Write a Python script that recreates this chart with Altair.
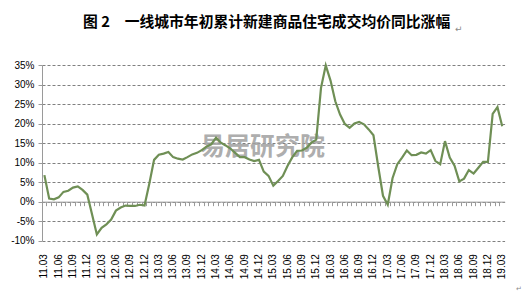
import altair as alt
import pandas as pd

# categories: monthly, 2011.03 .. 2019.03
months = [f"{y}.{m:02d}" for y in range(11, 20) for m in range(1, 13)
          if (11, 3) <= (y, m) <= (19, 3)]

# year-to-date YoY change of new commercial housing average price (%)
values = [
    6.8, 0.8, 0.6, 1.1, 2.5, 2.8, 3.6, 3.9, 3.0, 1.8,
    -3.3, -8.4, -6.7, -5.8, -4.6, -2.3, -1.5, -1.0, -1.1, -1.1,
    -0.8, -1.0, 4.6, 10.7, 12.0, 12.3, 12.7, 11.4, 11.0, 10.8,
    11.4, 12.1, 12.5, 13.2, 14.1, 14.7, 16.4, 15.1, 14.4, 13.6,
    12.5, 11.4, 11.4, 10.8, 10.4, 10.7, 7.7, 6.6, 4.1, 5.3,
    6.6, 9.2, 11.4, 13.0, 13.1, 13.8, 15.1, 15.9, 29.1, 34.9,
    31.0, 25.7, 22.3, 19.9, 18.9, 20.0, 20.4, 19.8, 18.5, 17.0,
    9.0, 1.5, -0.8, 6.0, 9.6, 11.3, 13.1, 11.9, 12.0, 12.6,
    12.3, 13.2, 10.4, 9.6, 15.5, 11.3, 9.2, 5.2, 5.9, 8.1,
    7.2, 8.7, 10.2, 10.2, 22.5, 24.2, 19.3,
]

y_ticks = [-10, -5, 0, 5, 10, 15, 20, 25, 30, 35]
label_months = ["03", "06", "09", "12"]
title_text = "图 2　一线城市年初累计新建商品住宅成交均价同比涨幅"
watermark = "易居研究院"

W, H = 462.6, 175.7
Y_MIN, Y_MAX = -10, 35
zero_offset = -H * (0 - Y_MIN) / (Y_MAX - Y_MIN)

df = pd.DataFrame({"month": months, "value": values})

label_expr = ("indexof(" + str(label_months) + ", slice(datum.value, 3)) >= 0"
              " ? datum.value : ''")

line = alt.Chart(df).mark_line(color="#6F8F55", strokeWidth=2.2).encode(
    x=alt.X(
        "month:O", sort=months,
        scale=alt.Scale(type="band", paddingInner=0, paddingOuter=0),
        bandPosition=0.5,
        axis=alt.Axis(
            title=None, orient="bottom", offset=zero_offset, bandPosition=0,
            tickSize=4, tickColor="#9a9a9a", domainColor="#9a9a9a",
            labelAngle=270, labelAlign="right", labelBaseline="middle",
            labelPadding=48, labelOverlap=False, labelExpr=label_expr,
            labelFont="Liberation Sans", labelFontSize=10, labelColor="#000",
            grid=False,
        ),
    ),
    y=alt.Y(
        "value:Q",
        scale=alt.Scale(domain=[Y_MIN, Y_MAX], nice=False, zero=False),
        axis=alt.Axis(
            title=None, values=y_ticks, labelExpr="datum.value + '%'",
            grid=True, gridDash=[3, 2], gridColor="#808080",
            tickSize=4, tickColor="#9a9a9a", domainColor="#9a9a9a",
            labelPadding=4, labelFont="Liberation Sans", labelFontSize=10,
            labelColor="#000",
        ),
    ),
)

wm = alt.Chart(pd.DataFrame({"t": [watermark]})).mark_text(
    font="Noto Sans CJK SC", fontSize=25, fontWeight="bold", color="#a0a0a0",
    opacity=0.85, align="left", baseline="middle",
).encode(x=alt.value(158), y=alt.value(82), text="t:N")

title = alt.Chart(pd.DataFrame({"t": [title_text]})).mark_text(
    font="Noto Sans CJK SC", fontSize=14.8, fontWeight="bold", color="#000",
    align="left", baseline="middle",
).encode(x=alt.value(41), y=alt.value(-42), text="t:N")

marks = alt.Chart(pd.DataFrame({"t": ["↵"]})).mark_text(
    font="DejaVu Sans", fontSize=9, color="#8a8a8a", align="left",
    baseline="middle",
).encode(x=alt.value(413), y=alt.value(-36), text="t:N")

marks2 = alt.Chart(pd.DataFrame({"t": ["↵"]})).mark_text(
    font="DejaVu Sans", fontSize=7, color="#8a8a8a", align="left",
    baseline="middle",
).encode(x=alt.value(474), y=alt.value(224), text="t:N")

chart = alt.layer(wm, line, title, marks, marks2).properties(
    width=W, height=H,
    padding={"left": 42, "top": 65, "right": 523 - 42 - W, "bottom": 294 - 65 - H},
    autosize=alt.AutoSizeParams(type="none"),
).configure_view(stroke=None)

chart.save("out.html", embed_options={"renderer": "svg", "actions": False})
